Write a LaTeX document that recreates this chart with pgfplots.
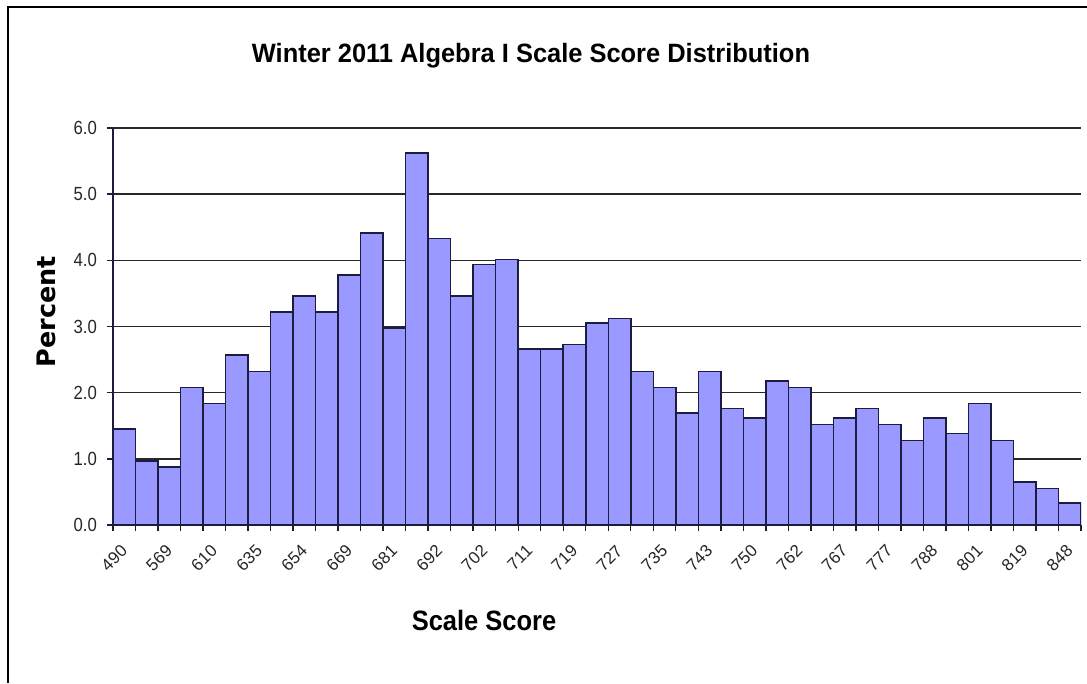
\documentclass[border=0pt]{standalone}
\usepackage{fontspec}
\setmainfont{Liberation Sans}
\newfontfamily\tickfont[FakeStretch=0.88]{Liberation Sans}
\newfontfamily\titlefont[FakeStretch=0.96]{Liberation Sans}
\newfontfamily\xlabfont[FakeStretch=0.91]{Liberation Sans}
\newfontfamily\ylabfont{DejaVu Sans}
\usepackage{pgfplots}
\pgfplotsset{compat=1.18}
\definecolor{barfill}{HTML}{9999FF}
\definecolor{baredge}{RGB}{28,28,64}
\definecolor{gridc}{RGB}{40,40,40}

\begin{document}
\begin{tikzpicture}
\path[use as bounding box] (0pt,0pt) rectangle (1087pt,-683pt);
\draw[line width=2pt] (8pt,-683pt) -- (8pt,-7pt) -- (1087pt,-7pt);
\begin{axis}[
  at={(113pt,-525pt)}, anchor=south west,
  scale only axis, width=968pt, height=397pt,
  xmin=-0.5, xmax=42.5, ymin=0, ymax=6,
  axis x line*=bottom, axis y line*=left,
  axis line style={line width=1.6pt, baredge},
  ybar, bar width=1,
  ytick={0,1,2,3,4,5,6},
  ymajorgrids, grid style={line width=1.6pt, gridc},
  tick align=outside,
  major tick length=6pt,
  tick style={line width=1.4pt, baredge},
  xtick={-0.5,0.5,1.5,2.5,3.5,4.5,5.5,6.5,7.5,8.5,9.5,10.5,11.5,12.5,13.5,14.5,15.5,16.5,17.5,18.5,19.5,20.5,21.5,22.5,23.5,24.5,25.5,26.5,27.5,28.5,29.5,30.5,31.5,32.5,33.5,34.5,35.5,36.5,37.5,38.5,39.5,40.5,41.5,42.5},
  xticklabels={490,,569,,610,,635,,654,,669,,681,,692,,702,,711,,719,,727,,735,,743,,750,,762,,767,,777,,788,,801,,819,,848,},
  xticklabel style={font=\fontsize{17}{19}\selectfont, text=black!85, xshift=11.26pt, yshift=-17pt, rotate=45, anchor=east, inner sep=0pt},
  yticklabel style={font=\tickfont\fontsize{19}{20}\selectfont, text=black!85, anchor=east, inner sep=0pt, xshift=-10pt},
  /pgf/number format/assume math mode=true,
  yticklabel={\pgfmathprintnumber[fixed,fixed zerofill,precision=1]{\tick}},
]
\addplot[fill=barfill, draw=baredge, line width=1.5pt, bar shift=0pt] coordinates {
(0,1.45) (1,0.97) (2,0.88) (3,2.08) (4,1.84) (5,2.57) (6,2.32) (7,3.22) (8,3.46) (9,3.22)
(10,3.78) (11,4.41) (12,2.98) (13,5.62) (14,4.33) (15,3.46) (16,3.94) (17,4.01) (18,2.66) (19,2.66)
(20,2.73) (21,3.05) (22,3.12) (23,2.32) (24,2.08) (25,1.69) (26,2.32) (27,1.76) (28,1.62) (29,2.18)
(30,2.08) (31,1.52) (32,1.62) (33,1.76) (34,1.52) (35,1.28) (36,1.62) (37,1.38) (38,1.84) (39,1.28)
(40,0.65) (41,0.55) (42,0.33)
};
\end{axis}
\node[anchor=base, inner sep=0pt, font=\titlefont\bfseries\fontsize{26.5}{30}\selectfont] at (531pt,-62pt) {Winter 2011 Algebra I Scale Score Distribution};
\node[anchor=base, inner sep=0pt, rotate=90, font=\ylabfont\bfseries\fontsize{25.5}{28}\selectfont] at (55pt,-311.5pt) {Percent};
\node[anchor=base, inner sep=0pt, font=\xlabfont\bfseries\fontsize{28}{30}\selectfont] at (484pt,-630pt) {Scale Score};
\end{tikzpicture}
\end{document}
